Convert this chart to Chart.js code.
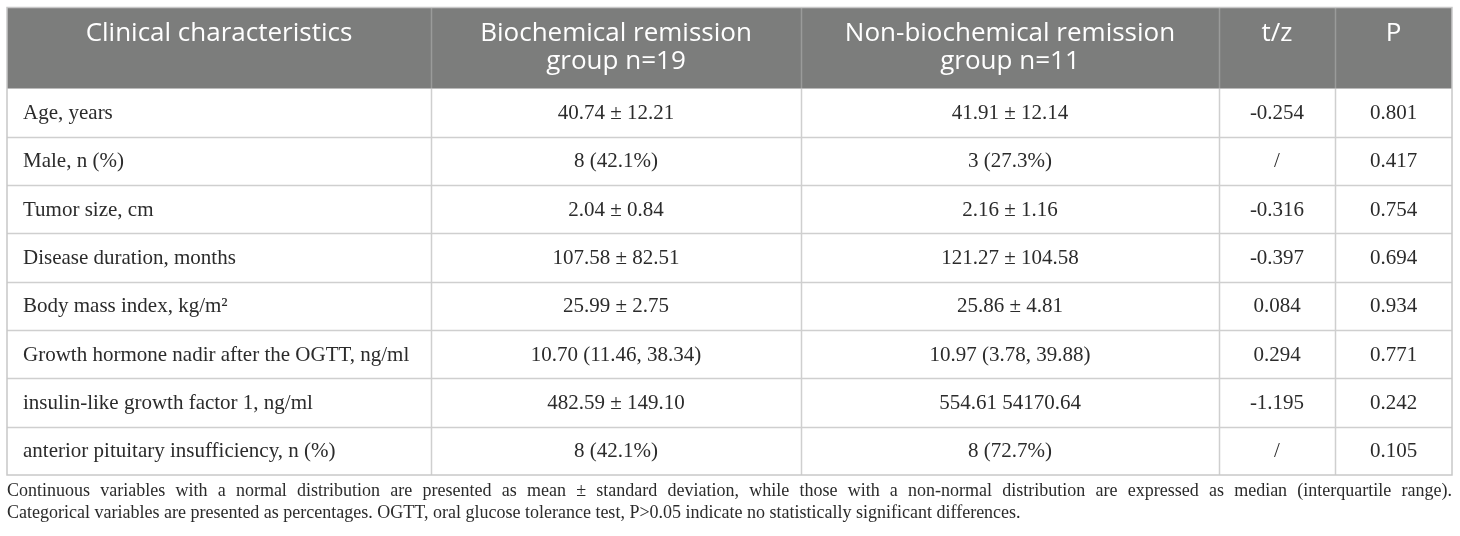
<!DOCTYPE html>
<html>
<head>
<meta charset="utf-8">
<script src="https://cdn.jsdelivr.net/npm/chart.js@4.4.1/dist/chart.umd.min.js"></script>
<style>
  html, body { margin: 0; padding: 0; background: #fff; }
  #wrap { width: 1460px; height: 536px; position: relative; }
</style>
</head>
<body>
<div id="wrap"><canvas id="tabla"></canvas></div>
<script>
// datos de la tabla
const headers = ['Clinical characteristics', 'Biochemical remission\ngroup n=19', 'Non-biochemical remission\ngroup n=11', 't/z', 'P'];
const characteristics = [
    'Age, years',
    'Male, n (%)',
    'Tumor size, cm',
    'Disease duration, months',
    'Body mass index, kg/m²',
    'Growth hormone nadir after the OGTT, ng/ml',
    'insulin-like growth factor 1, ng/ml',
    'anterior pituitary insufficiency, n (%)'
];
const remissionGroup = ['40.74 ± 12.21', '8 (42.1%)', '2.04 ± 0.84', '107.58 ± 82.51', '25.99 ± 2.75', '10.70 (11.46, 38.34)', '482.59 ± 149.10', '8 (42.1%)'];
const nonRemissionGroup = ['41.91 ± 12.14', '3 (27.3%)', '2.16 ± 1.16', '121.27 ± 104.58', '25.86 ± 4.81', '10.97 (3.78, 39.88)', '554.61 54170.64', '8 (72.7%)'];
const tzValues = ['-0.254', '/', '-0.316', '-0.397', '0.084', '0.294', '-1.195', '/'];
const pValues = ['0.801', '0.417', '0.754', '0.694', '0.934', '0.771', '0.242', '0.105'];
const footnote = [
    'Continuous variables with a normal distribution are presented as mean ± standard deviation, while those with a non-normal distribution are expressed as median (interquartile range).',
    'Categorical variables are presented as percentages. OGTT, oral glucose tolerance test, P>0.05 indicate no statistically significant differences.'
];

// layout (unidades de la escala x = px de tabla, escala y = filas)
const colEdges = [0, 424, 794, 1212, 1328, 1445];
const headerRows = 1.677;
const firstColPad = 16;
const bodyFont = '21px "Liberation Serif", serif';
const headFont = '26px "Open Sans", sans-serif';
const noteFont = '18px "Liberation Serif", serif';

const columnsData = [characteristics, remissionGroup, nonRemissionGroup, tzValues, pValues];

// un dataset por columna, puntos invisibles en el centro de cada celda
const datasets = columnsData.map((col, c) => ({
    label: headers[c],
    data: col.map((txt, r) => ({
        x: c === 0 ? colEdges[0] + firstColPad : (colEdges[c] + colEdges[c + 1]) / 2,
        y: r + 0.5
    })),
    pointRadius: 0,
    showLine: false
}));

function justify(ctx, text, x, y, width) {
    const words = text.split(' ');
    const total = words.reduce((s, w) => s + ctx.measureText(w).width, 0);
    const gap = (width - total) / (words.length - 1);
    let cx = x;
    words.forEach(w => {
        ctx.fillText(w, cx, y);
        cx += ctx.measureText(w).width + gap;
    });
}

const tablePlugin = {
    id: 'tablePlugin',
    beforeDatasetsDraw(chart) {
        const { ctx, scales: { x, y } } = chart;
        const left = x.getPixelForValue(colEdges[0]);
        const right = x.getPixelForValue(colEdges[colEdges.length - 1]);
        const top = y.getPixelForValue(-headerRows);
        const headBottom = y.getPixelForValue(0);
        const bottom = y.getPixelForValue(characteristics.length);

        ctx.save();
        // cabecera
        ctx.fillStyle = '#7c7d7c';
        ctx.fillRect(left, top, right - left, headBottom - top);

        // lineas horizontales
        ctx.strokeStyle = '#cfcfcf';
        ctx.lineWidth = 1.5;
        for (let r = 1; r < characteristics.length; r++) {
            const py = Math.round(y.getPixelForValue(r)) + 0.5;
            ctx.beginPath();
            ctx.moveTo(left, py);
            ctx.lineTo(right, py);
            ctx.stroke();
        }
        // lineas verticales
        for (let c = 1; c < colEdges.length - 1; c++) {
            const px = Math.round(x.getPixelForValue(colEdges[c])) + 0.5;
            ctx.strokeStyle = '#9a9b9a';
            ctx.beginPath();
            ctx.moveTo(px, top);
            ctx.lineTo(px, headBottom);
            ctx.stroke();
            ctx.strokeStyle = '#cfcfcf';
            ctx.beginPath();
            ctx.moveTo(px, headBottom);
            ctx.lineTo(px, bottom);
            ctx.stroke();
        }
        // borde
        ctx.strokeStyle = '#c8c8c8';
        ctx.strokeRect(left, top, right - left, bottom - top);

        // textos cabecera
        ctx.fillStyle = '#ffffff';
        ctx.font = headFont;
        ctx.textAlign = 'center';
        ctx.textBaseline = 'middle';
        headers.forEach((h, c) => {
            const cx = x.getPixelForValue((colEdges[c] + colEdges[c + 1]) / 2);
            h.split('\n').forEach((line, i) => {
                ctx.fillText(line, cx, top + 26 + i * 28);
            });
        });
        ctx.restore();
    },
    afterDatasetsDraw(chart) {
        const { ctx, chartArea } = chart;
        ctx.save();
        ctx.fillStyle = '#2b2b2b';
        ctx.font = bodyFont;
        ctx.textBaseline = 'middle';
        columnsData.forEach((col, c) => {
            const meta = chart.getDatasetMeta(c);
            ctx.textAlign = c === 0 ? 'left' : 'center';
            meta.data.forEach((pt, r) => {
                ctx.fillText(col[r], pt.x, pt.y + 1);
            });
        });

        // nota al pie
        ctx.font = noteFont;
        ctx.textAlign = 'left';
        ctx.textBaseline = 'alphabetic';
        const w = chartArea.right - chartArea.left;
        justify(ctx, footnote[0], chartArea.left, chartArea.bottom + 21, w);
        ctx.fillText(footnote[1], chartArea.left, chartArea.bottom + 43);
        ctx.restore();
    }
};

const ctx = document.getElementById('tabla').getContext('2d');
const chart = new Chart(ctx, {
    type: 'scatter',
    data: { datasets: datasets },
    options: {
        responsive: true,
        maintainAspectRatio: false,
        animation: false,
        events: [],
        layout: { padding: { left: 7, right: 8, top: 7.5, bottom: 61 } },
        plugins: {
            legend: { display: false },
            tooltip: { enabled: false }
        },
        scales: {
            x: { type: 'linear', display: false, min: colEdges[0], max: colEdges[colEdges.length - 1] },
            y: { type: 'linear', display: false, reverse: true, min: -headerRows, max: characteristics.length }
        }
    },
    plugins: [tablePlugin]
});
</script>
</body>
</html>
